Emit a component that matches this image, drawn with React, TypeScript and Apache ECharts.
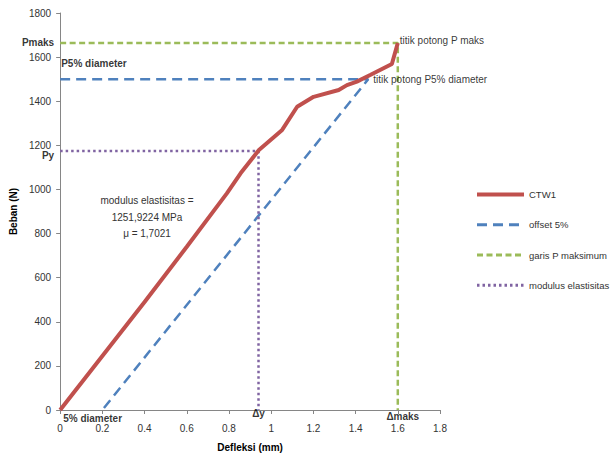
import React, { useEffect, useRef } from "react";
import * as echarts from "echarts";

// CTW1 load–deflection curve
const deflection = [0, 0.2, 0.4, 0.6, 0.79, 0.855, 0.942, 1.052, 1.123, 1.201, 1.32, 1.359, 1.406, 1.469, 1.572, 1.6];
const load = [0, 245, 490, 740, 982, 1073, 1179, 1270, 1375, 1420, 1451, 1473, 1489, 1519, 1569, 1664];

// offset 5% line (horizontal P5% then diagonal back to 5% diameter)
const offsetX = [0, 1.46, 0.2];
const offsetY = [1500, 1500, 0];

// garis P maksimum
const pmaxX = [0, 1.6, 1.6];
const pmaxY = [1664, 1664, 0];

// modulus elastisitas (Py / Δy)
const modX = [0, 0.94, 0.94];
const modY = [1174, 1174, 0];

const seriesNames = ["CTW1", "offset 5%", "garis P maksimum", "modulus elastisitas"];

// annotations
const annText = ["Pmaks", "P5% diameter", "Py", "5% diameter", "Δy", "Δmaks", "titik potong P maks", "titik potong P5% diameter"];
const annX = [0, 0, 0, 0, 0.94, 1.6, 1.6, 1.46];
const annY = [1664, 1500, 1174, 0, 0, 0, 1664, 1500];

const modulusNote = ["modulus elastisitas =", "1251,9224 MPa", "μ = 1,7021"];

const xTicks = { min: 0, max: 1.8, interval: 0.2 };
const yTicks = { min: 0, max: 1800, interval: 200 };

const FONT = "Liberation Sans";

const zip = (xs: number[], ys: number[]) => xs.map((x, i) => [x, ys[i]]);

export default function App() {
  const ref = useRef<HTMLDivElement>(null);
  useEffect(() => {
    if (!ref.current) return;
    const chart = echarts.init(ref.current, null, { renderer: "svg" });

    const annStyle: any[] = [
      { position: "left", distance: 6, offset: [0, 0], fontWeight: "bold" },
      { position: "right", distance: 5, offset: [-4, -16], fontWeight: "bold" },
      { position: "left", distance: 6, offset: [0, 4], fontWeight: "bold" },
      { position: "right", distance: 5, offset: [-2, 8], fontWeight: "bold" },
      { position: "inside", offset: [0, 3], fontWeight: "bold" },
      { position: "inside", offset: [5, 6], fontWeight: "bold" },
      { position: "right", distance: 5, offset: [-3, -2], fontWeight: "normal" },
      { position: "right", distance: 5, offset: [0, 0], fontWeight: "normal" },
    ];

    const annData = annText.map((t, i) => ({
      value: [annX[i], annY[i]],
      label: {
        show: true,
        formatter: t,
        color: "#000",
        fontSize: 10,
        fontFamily: FONT,
        ...annStyle[i],
      },
    }));

    const axisCommon = {
      type: "value" as const,
      splitLine: { show: false },
      axisLine: { show: true, onZero: false, lineStyle: { color: "#868686", width: 1 } },
      axisTick: { show: true, inside: false, length: 4, lineStyle: { color: "#868686" } },
      nameTextStyle: { color: "#000", fontSize: 10, fontWeight: "bold", fontFamily: FONT },
    };

    const legendWidths = [4, 3, 3, 3];

    chart.setOption({
      animation: false,
      backgroundColor: "#fff",
      textStyle: { fontFamily: FONT },
      grid: { left: 59, top: 13, width: 381, height: 397, containLabel: false },
      xAxis: {
        ...axisCommon,
        ...xTicks,
        name: "Defleksi (mm)",
        nameLocation: "middle",
        nameGap: 32,
        axisLabel: { color: "#333", fontSize: 10, margin: 13, fontFamily: FONT, formatter: (v: number) => String(Math.round(v * 10) / 10) },
      },
      yAxis: {
        ...axisCommon,
        ...yTicks,
        name: "Beban (N)",
        nameLocation: "middle",
        nameGap: 38,
        nameRotate: 90,
        axisLabel: { color: "#333", fontSize: 10, margin: 9, fontFamily: FONT, formatter: (v: number) => String(v) },
      },
      legend: {
        data: seriesNames.map((n, i) => ({ name: n, lineStyle: { width: legendWidths[i] } })),
        orient: "vertical",
        left: 475,
        top: 189,
        padding: 0,
        itemWidth: 47,
        itemHeight: 14,
        itemGap: 19,
        itemStyle: { opacity: 0 },
        textStyle: { color: "#333", fontSize: 9.5, fontFamily: FONT },
        selectedMode: false,
      },
      graphic: [
        {
          type: "text",
          x: 147,
          y: 217,
          style: {
            text: modulusNote.join("\n"),
            align: "center",
            verticalAlign: "middle",
            lineHeight: 16.5,
            fontSize: 10,
            fontFamily: FONT,
            fill: "#333",
          },
        },
      ],
      series: [
        {
          name: seriesNames[1],
          type: "line",
          data: zip(offsetX, offsetY),
          symbol: "none",
          color: "#4F81BD",
          lineStyle: { color: "#4F81BD", width: 2.5, type: [10, 6] },
          z: 2,
        },
        {
          name: seriesNames[2],
          type: "line",
          data: zip(pmaxX, pmaxY),
          symbol: "none",
          color: "#9BBB59",
          lineStyle: { color: "#9BBB59", width: 2.5, type: [6, 3.5] },
          z: 2,
        },
        {
          name: seriesNames[3],
          type: "line",
          data: zip(modX, modY),
          symbol: "none",
          color: "#8064A2",
          lineStyle: { color: "#8064A2", width: 2.5, type: [2.5, 3] },
          z: 2,
        },
        {
          name: seriesNames[0],
          type: "line",
          data: zip(deflection, load),
          symbol: "none",
          color: "#C0504D",
          lineStyle: { color: "#C0504D", width: 4 },
          z: 3,
        },
        {
          name: "annotations",
          type: "scatter",
          data: annData,
          symbolSize: 0,
          silent: true,
          z: 5,
        },
      ],
    });
    return () => chart.dispose();
  }, []);
  return (
    <div
      ref={ref}
      style={{ position: "fixed", left: 0, top: 0, width: 611, height: 462, background: "#fff" }}
    />
  );
}
